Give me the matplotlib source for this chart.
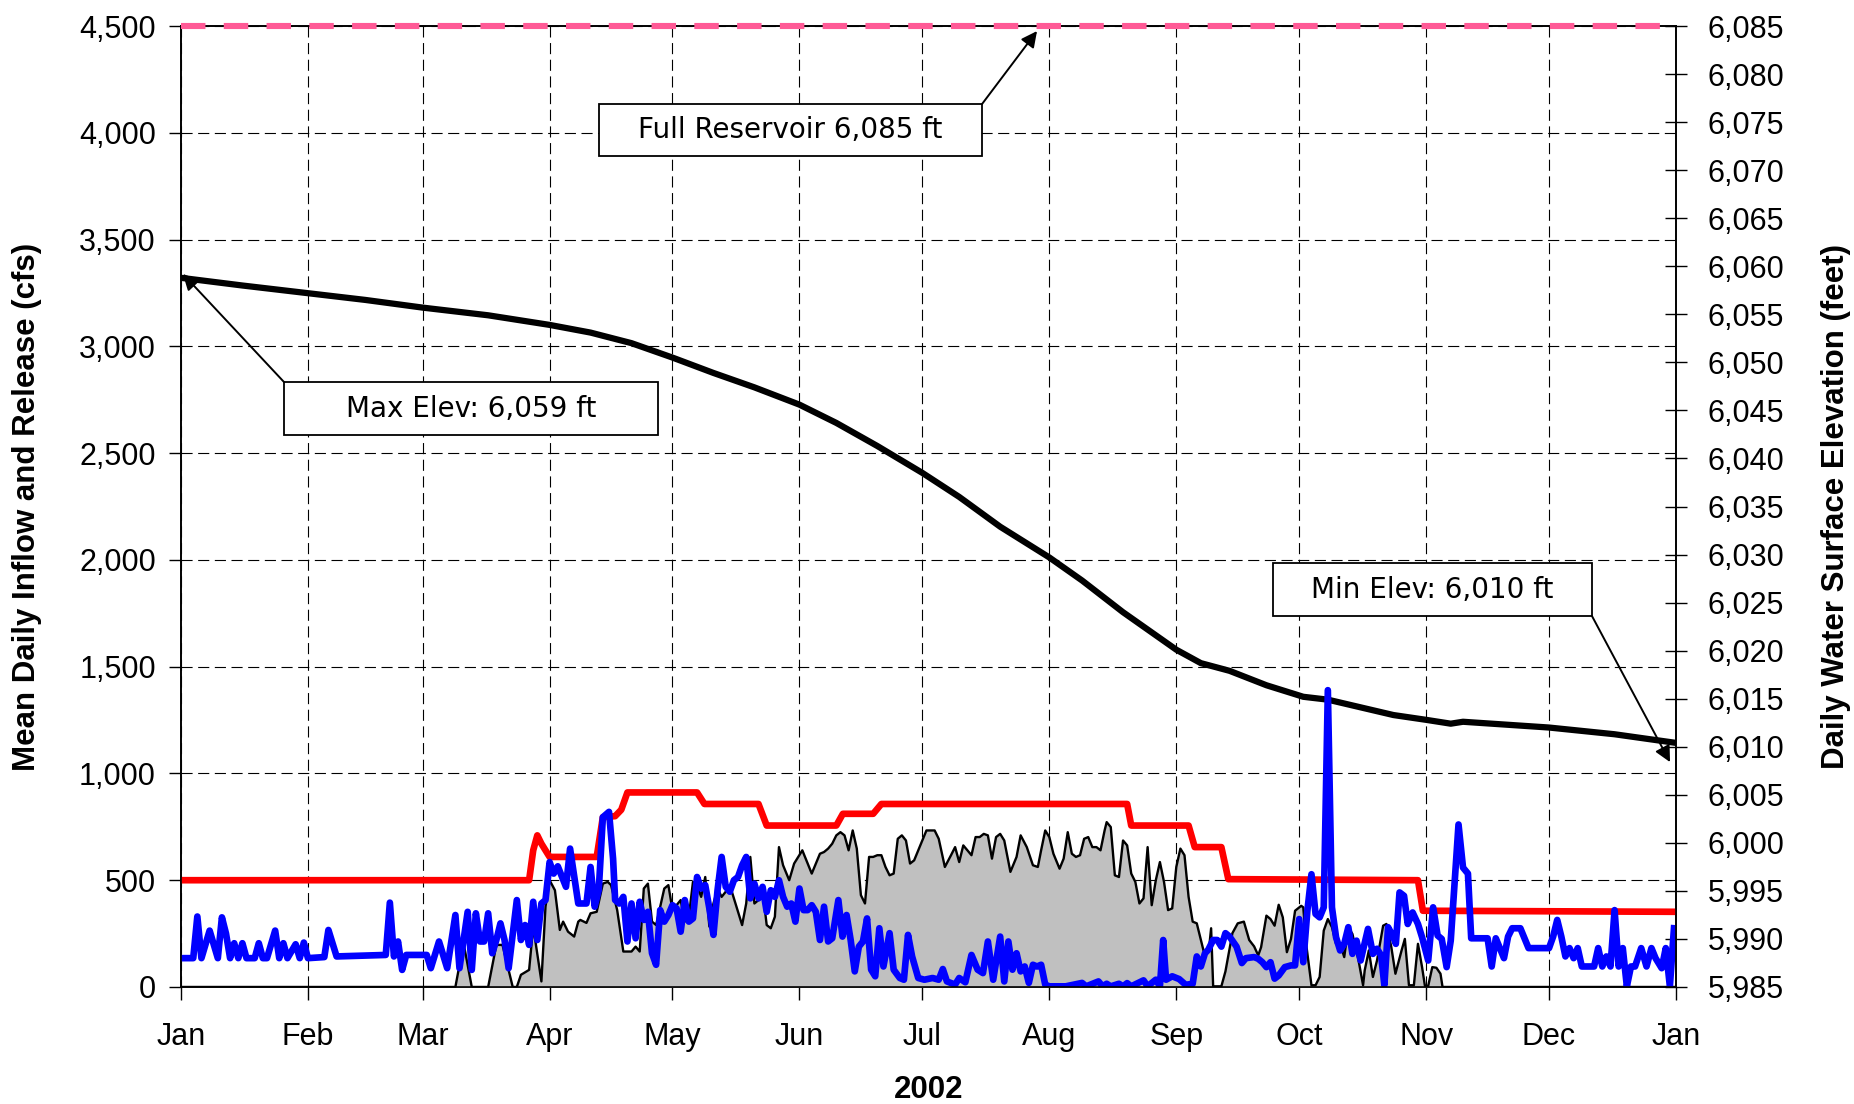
import numpy as np
import matplotlib
matplotlib.use("Agg")
from matplotlib import pyplot as plt
import matplotlib.dates as mdates
from matplotlib.patches import Rectangle
from matplotlib.ticker import FuncFormatter, MultipleLocator

plt.rcParams['font.family'] = ['Liberation Sans', 'DejaVu Sans']

# day of year (0 = Jan 1 2002), value
inflow_pts = [
    (0, 135), (3, 135), (4, 330), (5, 135), (7, 264), (9, 135), (10, 326), (11, 250), (12, 135),
    (13, 205), (14, 135), (15, 205), (16, 135), (18, 135), (19, 205), (20, 135), (21, 135), (23, 264),
    (24, 135), (25, 205), (26, 135), (28, 200), (29, 135), (30, 208), (31, 135),
    (35, 140), (36, 267), (38, 143), (50, 150), (51, 395), (52, 143), (53, 213), (54, 80), (55, 150),
    (60, 150), (61, 88), (63, 213), (65, 88), (67, 337), (68, 88), (70, 352), (71, 80), (72, 345),
    (73, 213), (74, 213), (75, 345), (76, 158), (77, 220), (78, 298), (79, 220), (80, 88), (82, 407),
    (83, 220), (84, 290), (85, 197), (86, 399), (87, 220), (88, 391), (89, 407),
    (90, 585), (91, 531), (92, 565), (94, 469), (95, 648), (97, 391), (99, 391), (100, 562), (101, 376),
    (102, 453), (103, 795), (104.5, 820), (105.5, 600), (106, 407), (107, 391), (108, 422), (109, 213),
    (110, 391), (111, 228), (112, 399), (113, 314), (114, 352), (115, 158), (116, 104), (117, 360),
    (118, 306), (119, 337),
    (120, 383), (121, 368), (122, 259), (123, 407), (124, 306), (125, 321), (126, 515), (127, 461),
    (128, 477), (129, 368), (130, 244), (131, 453), (132, 609), (133, 469), (134, 446), (135, 500),
    (136, 515), (137, 570), (138, 609), (139, 415), (140, 484), (141, 415), (142, 469), (143, 352),
    (144, 453), (145, 422), (146, 500), (147, 422), (148, 376), (149, 391), (150, 306),
    (151, 461), (152, 360), (153, 360), (154, 383), (155, 352), (156, 220), (157, 376), (158, 213),
    (159, 228), (160.5, 407), (161.5, 236), (162.5, 337), (163.5, 220), (164.5, 73), (165.5, 189),
    (166.5, 213), (167.5, 321), (168.5, 81), (169.5, 50), (170.5, 275), (171.5, 96), (173, 252),
    (174, 81), (175.5, 42), (176.5, 34), (177.5, 244), (178.5, 143), (180, 42),
    (181.5, 34), (183.5, 42), (185, 34), (186, 84), (187, 26), (189, 11), (190, 42), (191.5, 22),
    (193, 150), (194.5, 81), (195.8, 65), (197, 213), (198.3, 34), (200, 236), (201, 26), (202, 213),
    (203, 81), (204, 158), (205, 73), (206, 96), (207, 19), (208, 104), (209, 96), (210, 104), (211, 11),
    (212, 3), (216, 3), (220, 19), (221, 3), (224, 26), (225, 3), (226, 15), (227, 3), (229, 15),
    (230, 3), (231, 18), (232, 3), (235, 31), (236, 3), (238, 34), (239, 3), (239.8, 220), (240.5, 34),
    (242, 50),
    (243.7, 37), (245.3, 10), (247, 15), (248, 143), (249, 96), (250, 158), (250.8, 174), (252, 220),
    (253, 220), (254, 189), (255, 252), (256, 236), (257.7, 189), (259, 112), (260, 135), (262, 140),
    (263, 132), (264, 116), (265, 93), (266, 116), (267, 39), (268, 54), (269.5, 93), (271, 101),
    (272, 101),
    (273, 318), (274, 116), (275, 357), (276, 528), (277, 342), (278, 326), (279, 373), (280, 1390),
    (281, 373), (282, 233), (283, 171), (284, 202), (285, 280), (286, 155), (287, 217), (288, 124),
    (289.8, 272), (291, 155), (292, 179), (293, 148), (293.8, 8), (294.7, 280), (296, 233),
    (296.6, 202), (297.5, 443), (298.6, 427), (299.5, 295), (300.7, 349), (302, 295), (303, 233),
    (304.5, 124), (305.7, 373), (306.8, 241), (307.8, 225), (309, 93), (310, 217), (311.9, 761),
    (313, 559), (314.2, 531), (315, 228), (319, 228), (320, 96), (321, 228), (323, 135), (324, 236),
    (325, 275), (327, 275), (329, 182),
    (334, 182), (335, 236), (336, 314), (337, 236), (338, 143), (339, 182), (340, 135), (341, 182),
    (342, 96), (345, 96), (346, 182), (347, 96), (348, 143), (349, 96), (350, 360), (351, 96),
    (352, 182), (353, 3), (354, 96), (355, 96), (356.5, 182), (357.8, 96), (359, 182), (360, 135),
    (361.5, 88), (362.5, 182), (363.5, 3), (364.5, 275),
]

release_pts = [
    (0, 0), (67, 0), (69, 205), (71, 0), (75, 0), (77, 197), (78.5, 197), (81, 0), (82, 0), (83, 57),
    (85, 80), (86, 283), (88, 26), (89, 376),
    (90, 500), (91.3, 453), (92.5, 267), (93.3, 306), (94.5, 259), (96, 236), (97, 306), (97.5, 314),
    (99, 300), (100, 345), (101.5, 352), (103, 484), (104.2, 492), (105, 477), (106.5, 360), (108, 166),
    (110, 166), (111, 189), (112, 166), (113, 461), (114, 484), (115, 306), (116, 290), (117, 376),
    (118, 461), (119, 477),
    (120, 360), (121, 383), (122, 407), (123, 306), (124, 329), (125, 492), (126, 477), (127, 422),
    (128, 515), (129, 283), (130, 391), (131, 461), (132, 422), (133, 446), (134, 477), (135.5, 383),
    (137, 290), (138, 391), (139, 609), (140, 391), (141, 407), (142, 453), (143, 290), (144, 275),
    (145, 329), (146, 655), (147, 570), (148.5, 500), (149.7, 578),
    (151.7, 640), (154, 531), (156, 624), (157, 632), (158, 648), (159, 671), (160, 710), (161, 725),
    (162, 710), (163, 640), (164, 733), (165, 648), (166, 430), (167, 391), (168, 609), (169, 609),
    (170, 617), (171, 617), (172, 562), (173, 523), (174, 531), (175, 694), (176, 710), (177, 686),
    (178, 578), (179, 593),
    (181, 686), (182, 733), (184, 733), (185, 694), (186.5, 562), (188, 617), (189, 655), (190, 585),
    (191, 663), (192, 640), (193, 617), (194, 702), (195, 702), (196, 717), (197, 710), (198, 601),
    (199, 702), (200, 717), (201, 686), (202.5, 539), (204, 609), (205, 710), (206.5, 655), (208, 570),
    (209.2, 562), (210, 640), (211, 733),
    (212, 702), (213, 624), (214.5, 554), (215.5, 601), (216.5, 725), (217.5, 624), (218.5, 609),
    (219.5, 617), (220.5, 694), (221.5, 702), (222.5, 655), (223.5, 655), (224.5, 640), (225.5, 733),
    (226, 772), (227, 749), (228, 523), (229, 515), (230, 686), (231, 663), (232, 531), (233, 492),
    (234, 391), (235, 415), (236, 655), (237, 383), (238, 500), (239, 585), (240, 492), (241, 360),
    (242, 368),
    (243, 562), (244, 648), (245, 617), (246, 422), (247, 306), (248, 298), (249, 220), (250, 143),
    (251, 182), (251.5, 275), (252, 3), (254, 3), (255, 73), (256.7, 252), (258, 298), (259.5, 306),
    (260.8, 220), (262, 190), (263, 148), (263.7, 186), (265, 334), (266, 318), (267, 287), (268, 385),
    (269, 326), (270, 163), (271, 225), (272, 357),
    (273.5, 380), (274, 373), (274.7, 202), (276, 8), (277, 8), (278, 47), (279, 264), (280, 318),
    (281, 280), (282, 202), (283, 202), (284, 140), (285, 280), (286, 248), (287.5, 124), (288.6, 8),
    (289, 78), (290, 171), (291, 47), (292, 124), (293.5, 287), (294.3, 295), (295.5, 186), (296.5, 62),
    (298, 171), (298.8, 225), (299.8, 8), (301, 8), (302, 202), (303, 93),
    (303.7, 5), (304.5, 5), (305.5, 93), (306.5, 90), (307.5, 62), (308, 0), (365, 0),
]

target_pts = [
    (0, 500), (85, 500), (86, 640), (87, 710), (88, 671), (90, 609), (101.5, 609), (103, 795),
    (106, 800), (107.5, 830), (109, 911), (126, 911), (127.8, 857), (141, 857), (143, 756),
    (160, 756), (161.6, 811), (169, 811), (171, 857), (231, 857), (232, 756), (246, 756),
    (247.5, 655), (254, 655), (255.7, 505), (302, 500), (303.2, 357), (365, 352),
]

elev_pts = [
    (0, 6058.8), (15, 6058.0), (31, 6057.2), (45, 6056.5), (59, 6055.7), (75, 6054.9),
    (90, 6053.9), (100, 6053.1), (110, 6052.0), (120, 6050.5), (130, 6048.9), (140, 6047.4),
    (151, 6045.6), (160, 6043.7), (170, 6041.3), (181, 6038.5), (190, 6036.0), (200, 6032.9),
    (212, 6029.7), (220, 6027.3), (230, 6024.0), (238, 6021.6), (243, 6020.1), (249, 6018.7),
    (256, 6017.9), (265, 6016.4), (274, 6015.2), (280, 6014.9), (286, 6014.3), (296, 6013.3),
    (304, 6012.8), (310, 6012.4), (313, 6012.6), (334, 6012.0), (350, 6011.3), (365, 6010.4),
]

full_pool_cfs = 4500   # 6,085 ft on the right scale
months = ['Jan', 'Feb', 'Mar', 'Apr', 'May', 'Jun', 'Jul', 'Aug', 'Sep', 'Oct', 'Nov', 'Dec', 'Jan']

t0 = mdates.datestr2num('2002-01-01')
t1 = mdates.datestr2num('2003-01-01')


def split(pts):
    a = np.array(pts, dtype=float)
    return t0 + a[:, 0], a[:, 1]


fig = plt.figure(figsize=(18.54, 11.04), dpi=100)
ax = fig.add_axes([0.0976, 0.106, 0.8064, 0.8704])
ax2 = ax.twinx()
ax.set_zorder(ax2.get_zorder() + 1)
ax.patch.set_visible(False)

# elevation on the right axis
xe, ye = split(elev_pts)
ax2.plot(xe, ye, color='black', lw=4.5, solid_joinstyle='round')
ax2.set_ylim(5985, 6085)

xr, yr = split(release_pts)
ax.fill_between(xr, 0, yr, color='#C0C0C0', lw=0)
ax.plot(xr, yr, color='black', lw=1.7)

xt, yt = split(target_pts)
ax.plot(xt, yt, color='#FF0000', lw=4.8)

xi, yi = split(inflow_pts)
ax.plot(xi, yi, color='#0000FF', lw=4.8, solid_joinstyle='round')

ax.axhline(full_pool_cfs, color='#FF5A96', lw=4.4, dashes=(4.0, 3.0), clip_on=False, zorder=6)

ax.set_xlim(t0, t1)
ax.set_ylim(0, 4500)
ax.yaxis.set_major_locator(MultipleLocator(500))
ax2.yaxis.set_major_locator(MultipleLocator(5))
fmt = FuncFormatter(lambda v, p: f'{v:,.0f}')
ax.yaxis.set_major_formatter(fmt)
ax2.yaxis.set_major_formatter(fmt)

ticks = [mdates.datestr2num(f'2002-{m:02d}-01') for m in range(1, 13)] + [t1]
ax.set_xticks(ticks)
ax.set_xticklabels(months)

ax.grid(True, color='black', lw=0.8, linestyle=(0, (10, 5)))
ax.set_axisbelow(True)

ax.tick_params(axis='x', direction='out', length=9, width=1, labelsize=22, pad=16)
ax.tick_params(axis='y', direction='out', length=9, width=1, labelsize=22, pad=9)
ax2.tick_params(axis='y', direction='inout', length=16, width=1, labelsize=22, pad=15)
for a in (ax, ax2):
    for s in a.spines.values():
        s.set_linewidth(1.2)

lab = dict(fontsize=22.5, fontweight='bold')
ax.set_ylabel('Mean Daily Inflow and Release (cfs)', labelpad=27, **lab)
ax2.set_ylabel('Daily Water Surface Elevation (feet)', labelpad=26, **lab)
ax.set_xlabel('2002', labelpad=17, **lab)

# text boxes with arrows (axes fractions)
boxes = [
    ('Full Reservoir 6,085 ft', (0.2796, 0.8647, 0.5358, 0.9188), (0.5358, 0.9188), (0.5726, 0.9948)),
    ('Max Elev: 6,059 ft', (0.0689, 0.5744, 0.3191, 0.6296), (0.0689, 0.6296), (0.0013, 0.742)),
    ('Min Elev: 6,010 ft', (0.7304, 0.386, 0.9438, 0.4412), (0.9438, 0.386), (0.996, 0.234)),
]
for text, (x0, y0, x1, y1), tail, head in boxes:
    ax.add_patch(Rectangle((x0, y0), x1 - x0, y1 - y0, transform=ax.transAxes,
                           facecolor='white', edgecolor='black', lw=1.3, zorder=8))
    ax.text((x0 + x1) / 2, (y0 + y1) / 2, text, transform=ax.transAxes, ha='center', va='center',
            fontsize=20, family='DejaVu Sans', zorder=9)
    ax.annotate('', xy=head, xycoords='axes fraction', xytext=tail, textcoords='axes fraction',
                arrowprops=dict(arrowstyle='-|>', color='black', lw=1.4, mutation_scale=24,
                                shrinkA=0, shrinkB=0), zorder=9)

fig.savefig('out.png', dpi=100)
